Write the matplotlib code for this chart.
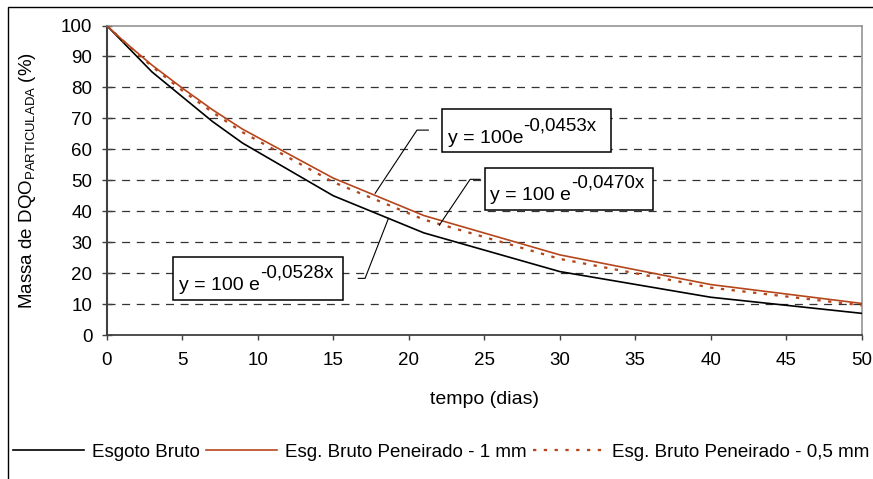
import matplotlib
matplotlib.use("Agg")
import matplotlib.pyplot as plt
from matplotlib.patches import Rectangle

plt.rcParams["font.family"] = ["Liberation Sans", "DejaVu Sans"]
plt.rcParams["mathtext.fontset"] = "custom"
plt.rcParams["mathtext.rm"] = "Liberation Sans"
plt.rcParams["mathtext.it"] = "Liberation Sans:italic"
plt.rcParams["mathtext.bf"] = "Liberation Sans:bold"

# Remaining particulate COD mass (%) over time (days)
dias = [0, 1, 2, 3, 5, 7, 9, 15, 21, 30, 40, 50]
esgoto_bruto = [100, 95, 90, 85, 77, 69, 62, 45, 33, 20.5, 12.2, 7.0]
peneirado_1mm = [100, 95.5, 91.3, 87.2, 79.8, 72.8, 66.5, 50.7, 38.6, 25.9, 16.3, 10.2]
peneirado_05mm = [100, 95.4, 91.0, 86.8, 79.0, 72.0, 65.5, 49.4, 37.3, 24.6, 15.3, 9.6]

serie_labels = ["Esgoto Bruto", "Esg. Bruto Peneirado - 1 mm", "Esg. Bruto Peneirado - 0,5 mm"]
eq_bases = ["y = 100e", "y = 100 e", "y = 100 e"]
eq_expoentes = ["-0,0453x", "-0,0470x", "-0,0528x"]

x_ticks = list(range(0, 51, 5))
y_ticks = list(range(0, 101, 10))

LARANJA = "#B5461C"
W, H = 873, 479

fig = plt.figure(figsize=(W / 100, H / 100), dpi=100)
fig.patch.set_facecolor("white")

# outer chart border (runs past the right and bottom edges)
fig.add_artist(Rectangle((8 / W, -0.1), 1.2, 1 - 7 / H + 0.1, transform=fig.transFigure,
                         fill=False, edgecolor="black", linewidth=1.0))

ax = fig.add_axes([106.7 / W, (H - 335) / H, (861.7 - 106.7) / W, (335 - 25.5) / H])
ax.set_xlim(0, 50)
ax.set_ylim(0, 100)
ax.set_xticks(x_ticks)
ax.set_yticks(y_ticks)

for y in y_ticks[1:-1]:
    ax.axhline(y, color="#333333", linewidth=0.9, linestyle=(0, (6.4, 5.3)), zorder=1)

ax.spines["top"].set_color("#8c8c8c")
ax.spines["right"].set_color("#8c8c8c")
ax.spines["top"].set_linewidth(1.1)
ax.spines["right"].set_linewidth(1.1)
ax.spines["left"].set_color("#404040")
ax.spines["bottom"].set_color("#404040")
ax.spines["left"].set_linewidth(1.5)
ax.spines["bottom"].set_linewidth(1.3)

ax.tick_params(axis="y", direction="inout", length=7.5, width=1.0, color="#404040",
               labelsize=13.5, pad=6.5)
ax.tick_params(axis="x", direction="out", length=3.6, width=1.0, color="#404040",
               labelsize=13.5, pad=8.5)

l1, = ax.plot(dias, esgoto_bruto, color="black", linewidth=1.2, zorder=3)
l2, = ax.plot(dias, peneirado_1mm, color=LARANJA, linewidth=1.2, zorder=3)
l3, = ax.plot(dias, peneirado_05mm, color=LARANJA, linewidth=1.65,
              linestyle=(0, (1.44, 3.27)), dash_capstyle="butt", zorder=3)

# equation boxes: (x0, y0, x1, y1) in data units, text anchor, leader path
caixas = [
    ((22.2, 59.2, 33.4, 73.0), (22.6, 61.9), [(21.3, 66.2), (20.55, 66.2), (17.78, 45.8)]),
    ((25.07, 40.4, 36.2, 54.05), (25.4, 43.6), [(24.73, 50.3), (24.07, 50.3), (22.03, 35.5)]),
    ((4.41, 11.3, 15.68, 25.3), (4.81, 14.5), [(16.66, 18.3), (17.11, 18.3), (18.66, 37.7)]),
]

renderer = fig.canvas.get_renderer()
for (caixa, ancora, lider), base, expo in zip(caixas, eq_bases, eq_expoentes):
    x0, y0, x1, y1 = caixa
    ax.add_patch(Rectangle((x0, y0), x1 - x0, y1 - y0, facecolor="white",
                           edgecolor="black", linewidth=1.1, zorder=5))
    xs, ys = zip(*lider)
    ax.plot(xs, ys, color="black", linewidth=0.8, zorder=4)
    t = ax.text(ancora[0], ancora[1], base, fontsize=14, ha="left", va="baseline", zorder=6)
    largura = t.get_window_extent(renderer=renderer).width
    ax.annotate(expo, xy=ancora, xycoords="data", xytext=(largura, 13),
                textcoords="offset pixels", fontsize=13.5, ha="left", va="baseline",
                zorder=6)

fig.text(484 / W, 1 - 400 / H, "tempo (dias)", fontsize=14, ha="center", va="center")
fig.text(28 / W, 1 - 180 / H, r"Massa de DQO$_{\mathrm{PARTICULADA}}$ (%)", fontsize=13.5,
         rotation=90, ha="center", va="center")

fig.legend([l1, l2, l3], serie_labels, loc="center left",
           bbox_to_anchor=(13.3 / W, 1 - 452 / H), ncol=3, frameon=False,
           fontsize=13.5, handlelength=3.75, handletextpad=0.45, columnspacing=0.35,
           borderpad=0, borderaxespad=0)

fig.savefig("out.png", dpi=100, facecolor="white")
